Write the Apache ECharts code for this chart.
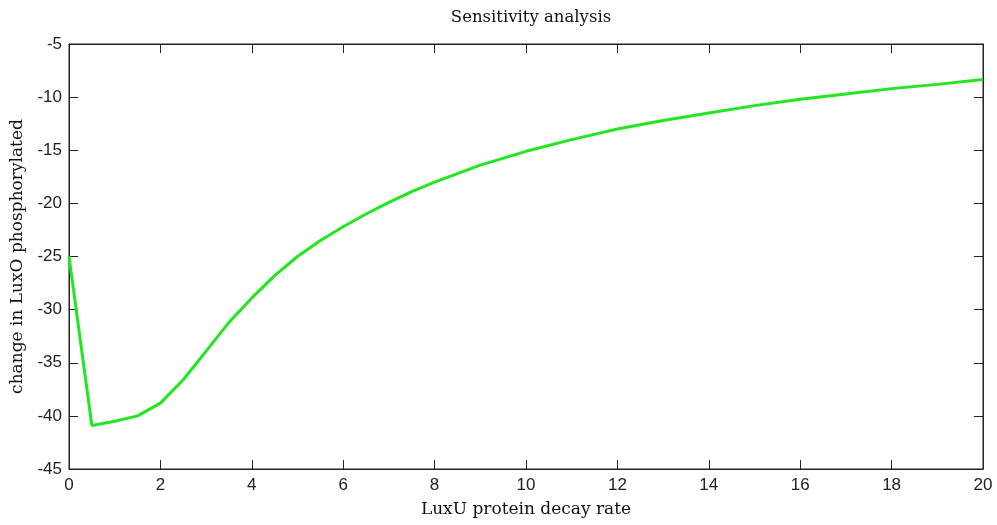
<!DOCTYPE html>
<html>
<head>
<meta charset="utf-8">
<script src="https://cdn.jsdelivr.net/npm/echarts@6/dist/echarts.min.js"></script>
<style>html,body{margin:0;padding:0;background:#fff;}#chart{width:997px;height:525px;}</style>
</head>
<body>
<div id="chart"></div>
<script>
const titleText = 'Sensitivity analysis';
const xName = 'LuxU protein decay rate';
const yName = 'change in LuxO phosphorylated';
const xValues = [0, 0.5, 1, 1.5, 2, 2.5, 3, 3.5, 4, 4.5, 5, 5.5, 6, 6.5, 7, 7.5, 8, 9, 10, 11, 12, 13, 14, 15, 16, 17, 18, 19, 20];
const yValues = [-25, -40.9, -40.5, -40.0, -38.8, -36.6, -33.9, -31.2, -28.9, -26.8, -25.0, -23.5, -22.2, -21.0, -19.9, -18.9, -18.0, -16.4, -15.1, -14.0, -13.0, -12.2, -11.5, -10.8, -10.2, -9.7, -9.2, -8.8, -8.35];
const xTicks = {min: 0, max: 20, interval: 2};
const yTicks = {min: -45, max: -5, interval: 5};

const chart = echarts.init(document.getElementById('chart'), null, {renderer: 'canvas'});
const axisLineStyle = {color: '#222', width: 1};
const labelFont = {fontFamily: 'Liberation Sans Narrow, Liberation Sans, Arial, sans-serif', fontSize: 17, color: '#222'};
const serifFont = {fontFamily: 'DejaVu Serif, serif', fontSize: 17, color: '#111'};
chart.setOption({
  animation: false,
  backgroundColor: '#fff',
  title: {text: titleText, left: 526, top: 4, textAlign: 'center', textStyle: {fontFamily: 'DejaVu Serif, serif', fontSize: 16.5, color: '#111', fontWeight: 'normal'}},
  grid: {left: 69, right: 14, top: 44, bottom: 56, show: true, borderColor: '#222', borderWidth: 1, backgroundColor: '#fff'},
  xAxis: [
    {type: 'value', min: xTicks.min, max: xTicks.max, interval: xTicks.interval, position: 'bottom',
     name: xName, nameLocation: 'middle', nameGap: 32, nameTextStyle: serifFont,
     axisLine: {show: true, onZero: false, lineStyle: axisLineStyle},
     axisTick: {show: true, inside: true, length: 9, lineStyle: axisLineStyle},
     axisLabel: Object.assign({margin: 8}, labelFont), splitLine: {show: false}},
    {type: 'value', min: xTicks.min, max: xTicks.max, interval: xTicks.interval, position: 'top',
     axisLine: {show: true, onZero: false, lineStyle: axisLineStyle},
     axisTick: {show: true, inside: true, length: 9, lineStyle: axisLineStyle},
     axisLabel: {show: false}, splitLine: {show: false}}
  ],
  yAxis: [
    {type: 'value', min: yTicks.min, max: yTicks.max, interval: yTicks.interval, position: 'left',
     name: yName, nameLocation: 'middle', nameGap: 40, nameTextStyle: serifFont,
     axisLine: {show: true, onZero: false, lineStyle: axisLineStyle},
     axisTick: {show: true, inside: true, length: 9, lineStyle: axisLineStyle},
     axisLabel: Object.assign({margin: 7}, labelFont), splitLine: {show: false}},
    {type: 'value', min: yTicks.min, max: yTicks.max, interval: yTicks.interval, position: 'right',
     axisLine: {show: true, onZero: false, lineStyle: axisLineStyle},
     axisTick: {show: true, inside: true, length: 9, lineStyle: axisLineStyle},
     axisLabel: {show: false}, splitLine: {show: false}}
  ],
  series: [{
    type: 'line', xAxisIndex: 0, yAxisIndex: 0,
    data: xValues.map((x, i) => [x, yValues[i]]),
    showSymbol: false, symbol: 'none', smooth: false,
    lineStyle: {color: '#22e622', width: 3}
  }]
});
</script>
</body>
</html>
